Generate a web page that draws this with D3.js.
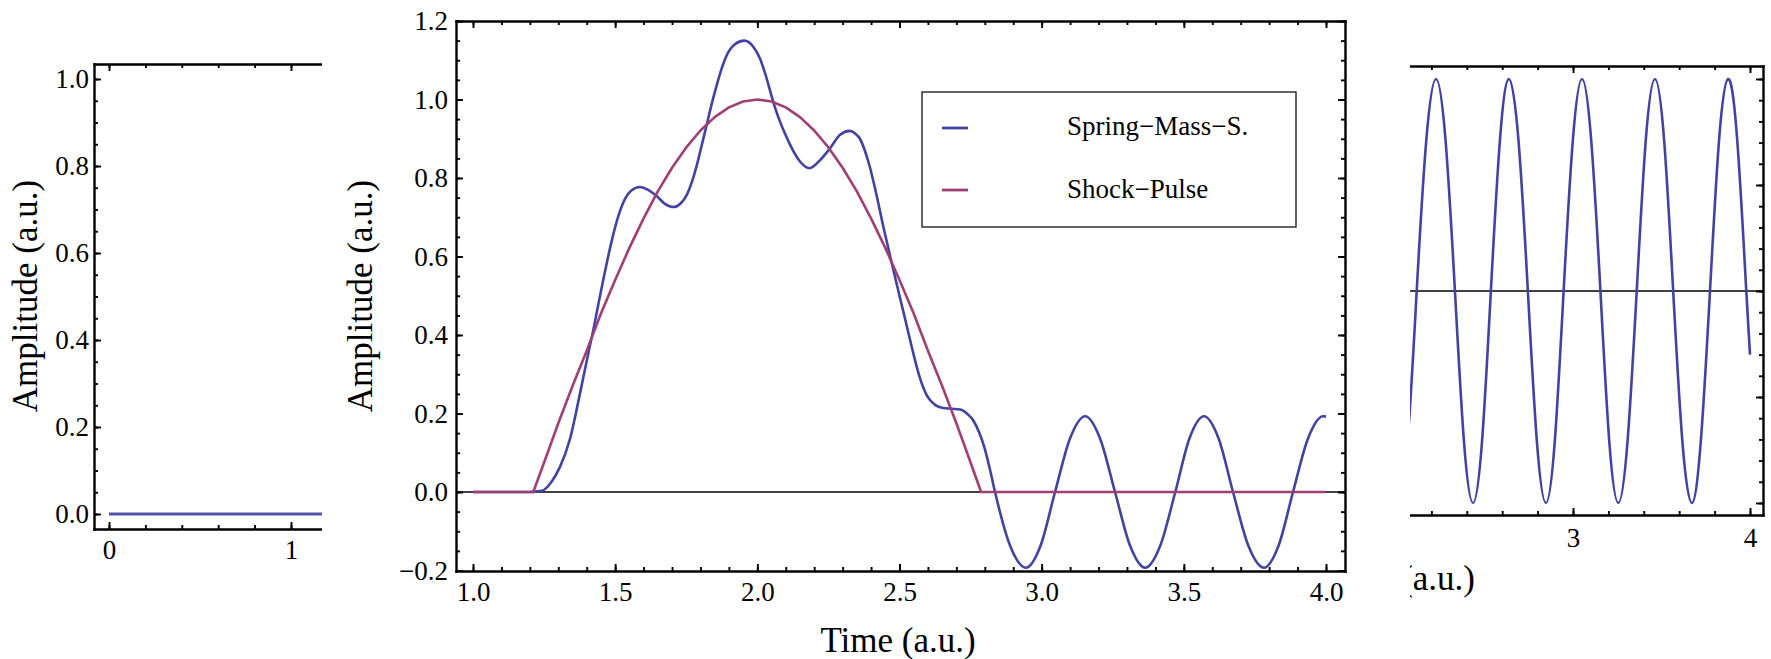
<!DOCTYPE html>
<html><head><meta charset="utf-8">
<script src="https://cdn.jsdelivr.net/npm/d3@7"></script>
<style>
html,body{margin:0;padding:0;background:#fff;}
svg{display:block;}
</style></head><body>
<svg id="chart" width="1771" height="659"></svg>
<script>
// ---------------- data ----------------
const seriesNames = ["Spring\u2212Mass\u2212S.", "Shock\u2212Pulse"];
const axisLabelX = "Time (a.u.)";
const axisLabelXCut = "(a.u.)";
const axisLabelY = "Amplitude (a.u.)";

const leftTicksX = [0, 1];
const leftTicksY = [0, 0.2, 0.4, 0.6, 0.8, 1.0];
const midTicksX = [1.0, 1.5, 2.0, 2.5, 3.0, 3.5, 4.0];
const midTicksY = [-0.2, 0, 0.2, 0.4, 0.6, 0.8, 1.0, 1.2];
const rightTicksX = [3, 4];
const rightTicksY = [-1, -0.5, 0, 0.5, 1];

// left panel (cropped) : spring response
const leftSpring = [[0,0],[0.5,0],[1.0,0],[1.2,0]];

// middle panel : spring-mass system response
const midSpring = [[1.0,0],[1.2,0],[1.242,0.003],[1.275,0.025],[1.306,0.064],[1.341,0.135],[1.376,0.25],[1.406,0.355],[1.423,0.412],[1.44,0.475],[1.458,0.54],[1.48,0.615],[1.50,0.675],[1.529,0.738],[1.557,0.768],[1.587,0.777],[1.616,0.77],[1.646,0.754],[1.675,0.734],[1.705,0.726],[1.73,0.735],[1.752,0.757],[1.77,0.79],[1.787,0.832],[1.805,0.885],[1.822,0.936],[1.84,0.99],[1.857,1.036],[1.875,1.08],[1.892,1.112],[1.92,1.14],[1.954,1.150],[1.985,1.135],[2.01,1.103],[2.028,1.065],[2.045,1.022],[2.062,0.98],[2.08,0.943],[2.098,0.912],[2.115,0.885],[2.15,0.842],[2.183,0.825],[2.22,0.845],[2.256,0.876],[2.291,0.91],[2.324,0.92],[2.345,0.913],[2.361,0.9],[2.378,0.87],[2.395,0.83],[2.415,0.77],[2.445,0.67],[2.478,0.567],[2.50,0.50],[2.525,0.425],[2.548,0.355],[2.572,0.29],[2.597,0.245],[2.625,0.222],[2.653,0.214],[2.685,0.212],[2.713,0.210],[2.74,0.198],[2.759,0.183],[2.78,0.152],[2.80,0.11],[2.818,0.058],[2.836,0],[2.889,-0.137],[2.945,-0.193],[2.996,-0.137],[3.047,0],[3.10,0.137],[3.153,0.193],[3.205,0.137],[3.258,0],[3.311,-0.137],[3.364,-0.193],[3.417,-0.137],[3.47,0],[3.52,0.137],[3.571,0.193],[3.622,0.137],[3.673,0],[3.727,-0.137],[3.782,-0.193],[3.833,-0.137],[3.884,0],[3.937,0.137],[3.99,0.193],[4.0,0.192]];

// middle panel : shock pulse
const midShock = [[1.0,0],[1.212,0],[1.25,0.075],[1.3,0.175],[1.35,0.27],[1.4,0.36],[1.45,0.455],[1.5,0.54],[1.55,0.622],[1.6,0.697],[1.65,0.766],[1.7,0.826],[1.75,0.878],[1.8,0.921],[1.85,0.955],[1.9,0.98],[1.95,0.995],[2.0,1.0],[2.05,0.995],[2.1,0.98],[2.15,0.955],[2.2,0.921],[2.25,0.878],[2.3,0.826],[2.35,0.766],[2.4,0.697],[2.45,0.622],[2.5,0.54],[2.55,0.455],[2.6,0.36],[2.65,0.27],[2.7,0.175],[2.75,0.075],[2.787,0],[4.0,0]];

// right panel (cropped) : spring response
const rightSpring = [[2.014,-1.0],[2.065,-0.71],[2.117,0],[2.171,0.71],[2.226,1.0],[2.28,0.71],[2.333,0],[2.384,-0.71],[2.435,-1.0],[2.486,-0.71],[2.536,0],[2.587,0.71],[2.638,1.0],[2.692,0.71],[2.745,0],[2.796,-0.71],[2.847,-1.0],[2.897,-0.71],[2.947,0],[2.999,0.71],[3.051,1.0],[3.103,0.71],[3.155,0],[3.205,-0.71],[3.256,-1.0],[3.308,-0.71],[3.36,0],[3.411,0.71],[3.463,1.0],[3.515,0.71],[3.566,0],[3.618,-0.71],[3.671,-1.0],[3.722,-0.71],[3.774,0],[3.825,0.71],[3.876,1.0],[3.928,0.71],[3.979,0],[4.0,-0.30]];

// ---------------- layout / style ----------------
const BLUE = "#4242a2", MAGENTA = "#a03f74";
const FONT = "'Liberation Serif','Times New Roman',Times,serif";
const TICK_FS = 27, LABEL_FS = 35;

const svg = d3.select("#chart");
svg.append("rect").attr("width",1771).attr("height",659).attr("fill","#fff");
const defs = svg.append("defs");

function mkScales(c){
  const x = d3.scaleLinear().domain([c.xa[0], c.xb[0]]).range([c.xa[1], c.xb[1]]);
  const y = d3.scaleLinear().domain([c.ya[0], c.yb[0]]).range([c.ya[1], c.yb[1]]);
  const F = c.frame;
  x.domain([x.invert(F.l), x.invert(F.r)]).range([F.l, F.r]);
  y.domain([y.invert(F.b), y.invert(F.t)]).range([F.b, F.t]);
  return {x, y};
}
function minorVals(scale, step){
  const [a,b] = scale.domain();
  const lo = Math.ceil(Math.min(a,b)/step - 1e-9), hi = Math.floor(Math.max(a,b)/step + 1e-9);
  return d3.range(lo, hi+1).map(k => +(k*step).toFixed(6));
}
function styleAxis(sel, showDomain){
  sel.select(".domain").attr("stroke","#000").attr("stroke-width", showDomain?2.4:0).attr("stroke-linecap","square");
  sel.selectAll(".tick line").attr("stroke","#000").attr("stroke-width",1.9);
  sel.selectAll(".tick text").filter(function(){ return !this.textContent; }).remove();
  sel.selectAll(".tick text").attr("font-family",FONT).attr("font-size",TICK_FS).attr("fill","#000");
  sel.attr("font-family",FONT).attr("font-size",TICK_FS);
}
function drawFrame(g, s, c){
  const {x,y} = s, F = c.frame;
  const sides = [
    {ax: d3.axisBottom, sc: x, tr:`translate(0,${F.b})`, major:c.ticksX, fmt:c.fmtX, pad:c.padX, minor:c.minorX},
    {ax: d3.axisTop,    sc: x, tr:`translate(0,${F.t})`, major:c.ticksX, fmt:null, pad:0, minor:c.minorX},
    {ax: d3.axisLeft,   sc: y, tr:`translate(${F.l},0)`, major:c.ticksY, fmt:c.fmtY, pad:c.padY, minor:c.minorY},
    {ax: d3.axisRight,  sc: y, tr:`translate(${F.r},0)`, major:c.ticksY, fmt:null, pad:0, minor:c.minorY}
  ];
  sides.forEach(sd => {
    const gm = g.append("g").attr("transform", sd.tr)
      .call(sd.ax(sd.sc).tickValues(minorVals(sd.sc, sd.minor)).tickFormat("").tickSizeInner(-4).tickSizeOuter(0));
    styleAxis(gm, false);
    const gMj = g.append("g").attr("transform", sd.tr)
      .call(sd.ax(sd.sc).tickValues(sd.major).tickFormat(sd.fmt ? sd.fmt : "").tickSizeInner(-7).tickSizeOuter(0).tickPadding(sd.pad));
    styleAxis(gMj, true);
  });
}
function clipRect(id, x, y, w, h){
  defs.append("clipPath").attr("id", id).append("rect").attr("x",x).attr("y",y).attr("width",w).attr("height",h);
  return `url(#${id})`;
}
function yLabel(g, bx, cy){
  g.append("text").attr("transform",`translate(${bx},${cy}) rotate(-90)`)
    .attr("text-anchor","middle").attr("font-family",FONT).attr("font-size",LABEL_FS).attr("fill","#000").text(axisLabelY);
}

// ---------- left panel ----------
const cL = {xa:[0,109], xb:[1,291], ya:[0,514], yb:[1,79], frame:{l:94, r:850, t:64, b:529},
  ticksX:leftTicksX, ticksY:leftTicksY, fmtX:d3.format("d"), fmtY:d3.format(".1f"), padX:11, padY:5, minorX:0.2, minorY:0.05};
const sL = mkScales(cL);
const gL = svg.append("g").attr("clip-path", clipRect("clipL", 0, 0, 322, 659));
drawFrame(gL, sL, cL);
gL.append("path").datum(leftSpring).attr("fill","none").attr("stroke","#5252aa").attr("stroke-width",2.8)
  .attr("d", d3.line().x(d=>sL.x(d[0])).y(d=>sL.y(d[1])));
yLabel(svg, 37, 296);

// ---------- middle panel ----------
const cM = {xa:[1,473], xb:[4,1326], ya:[0,492], yb:[1.2,21], frame:{l:456, r:1345, t:21, b:571},
  ticksX:midTicksX, ticksY:midTicksY, fmtX:d3.format(".1f"), fmtY:d3.format(".1f"), padX:11, padY:8, minorX:0.1, minorY:0.05};
const sM = mkScales(cM);
const gM = svg.append("g");
drawFrame(gM, sM, cM);
const gMc = gM.append("g").attr("clip-path", clipRect("clipM", 457, 22, 887, 548));
gMc.append("line").attr("x1",cM.frame.l).attr("x2",cM.frame.r).attr("y1",sM.y(0)).attr("y2",sM.y(0))
  .attr("stroke","#000").attr("stroke-width",1.3);
gMc.append("path").datum(midSpring).attr("fill","none").attr("stroke",BLUE).attr("stroke-width",2.6)
  .attr("stroke-linejoin","round")
  .attr("d", d3.line().x(d=>sM.x(d[0])).y(d=>sM.y(d[1])).curve(d3.curveMonotoneX));
gMc.append("path").datum(midShock).attr("fill","none").attr("stroke",MAGENTA).attr("stroke-width",2.6)
  .attr("stroke-linejoin","round")
  .attr("d", d3.line().x(d=>sM.x(d[0])).y(d=>sM.y(d[1])));
yLabel(svg, 372, 296);
svg.append("text").attr("x",898).attr("y",652).attr("text-anchor","middle")
  .attr("font-family",FONT).attr("font-size",LABEL_FS).attr("fill","#000").text(axisLabelX);

// legend
const lg = svg.append("g");
lg.append("rect").attr("x",922).attr("y",92).attr("width",374).attr("height",135)
  .attr("fill","#fff").attr("stroke","#222").attr("stroke-width",1.4);
[BLUE, MAGENTA].forEach((col,i) => {
  const yy = [128, 190][i];
  lg.append("line").attr("x1",942).attr("x2",968).attr("y1",yy).attr("y2",yy).attr("stroke",col).attr("stroke-width",2.8);
  lg.append("text").attr("x",1067).attr("y",[135,198][i]).attr("font-family",FONT).attr("font-size",TICK_FS)
    .attr("fill","#000").text(seriesNames[i]);
});

// ---------- right panel ----------
const cR = {xa:[3,1573], xb:[4,1750], ya:[0,291], yb:[1,79], frame:{l:1208, r:1763, t:66, b:515},
  ticksX:rightTicksX, ticksY:rightTicksY, fmtX:d3.format("d"), fmtY:null, padX:13, padY:6, minorX:0.2, minorY:0.1};
const sR = mkScales(cR);
const gR = svg.append("g").attr("clip-path", clipRect("clipR", 1410, 0, 361, 659));
drawFrame(gR, sR, cR);
const gRc = gR.append("g").attr("clip-path", clipRect("clipR2", 1209, 67, 553, 447));
gRc.append("line").attr("x1",cR.frame.l).attr("x2",cR.frame.r).attr("y1",sR.y(0)).attr("y2",sR.y(0))
  .attr("stroke","#000").attr("stroke-width",1.3);
gRc.append("path").datum(rightSpring).attr("fill","none").attr("stroke",BLUE).attr("stroke-width",2.6)
  .attr("d", d3.line().x(d=>sR.x(d[0])).y(d=>sR.y(d[1])).curve(d3.curveNatural));
gR.append("text").attr("x",1475).attr("y",590).attr("text-anchor","end")
  .attr("font-family",FONT).attr("font-size",LABEL_FS).attr("fill","#000").text(axisLabelXCut);
</script>
</body></html>
